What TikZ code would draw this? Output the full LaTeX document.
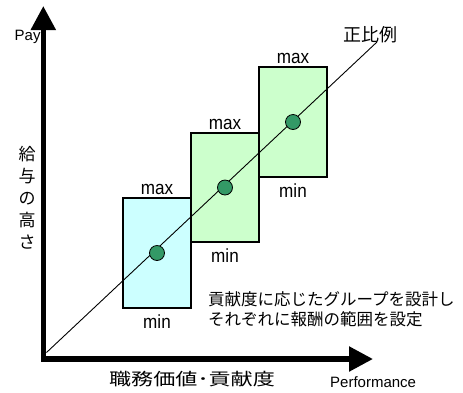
\documentclass[tikz,border=0pt]{standalone}
\usepackage{fontspec}
\setmainfont{Liberation Sans}
\newfontfamily\narrowsans[FakeStretch=0.9]{Liberation Sans}
\newfontfamily\jp{Noto Sans CJK JP}
\newfontfamily\jpwide[FakeStretch=1.3]{Noto Sans CJK JP}
\usetikzlibrary{arrows.meta}
\definecolor{boxblue}{HTML}{CCFFFF}
\definecolor{boxgreen}{HTML}{CCFFCC}
\definecolor{dotgreen}{HTML}{339966}
\begin{document}
\begin{tikzpicture}[x=1pt,y=-1pt,
  band/.style={draw=black,line width=2pt,minimum width=68pt,inner sep=0pt,anchor=north west},
  dot/.style={circle,draw=black,line width=0.8pt,fill=dotgreen,minimum size=15pt,inner sep=0pt},
  lbl/.style={font=\narrowsans\fontsize{19}{19}\selectfont,inner sep=0pt,anchor=base},
  axisline/.style={line width=5.3pt,{Triangle[length=24pt,width=24pt]}-{Triangle[length=24pt,width=24pt]}},
  jptext/.style={inner sep=0pt}]
\useasboundingbox (0,0) rectangle (463,392);

% axes
\coordinate (ytop) at (43.3,6);
\coordinate (corner) at (43.3,359);
\coordinate (xend) at (373,359);
\draw[axisline] (ytop) -- (corner) -- (xend);

% proportional line
\coordinate (o) at (46.5,352.5);
\coordinate (e) at (377,42);

% boxes
\node[band,fill=boxblue,minimum height=110pt] (b1) at (122,197) {};
\node[band,fill=boxgreen,minimum height=109pt] (b2) at (190,132) {};
\node[band,fill=boxgreen,minimum height=110pt] (b3) at (258,66) {};
\draw[line width=0.9pt] (o) -- (e);

% dots
\node[dot] (d1) at (b1.center) {};
\node[dot] (d2) at (b2.center) {};
\node[dot] (d3) at (b3.center) {};

% max / min labels
\node[lbl] (mx1) at ([yshift=2.5pt]b1.north) {max};
\node[lbl] (mx2) at ([yshift=2.5pt]b2.north) {max};
\node[lbl] (mx3) at ([yshift=2.5pt]b3.north) {max};
\node[lbl] (mn1) at ([yshift=-19pt]b1.south) {min};
\node[lbl] (mn2) at ([yshift=-19pt]b2.south) {min};
\node[lbl] (mn3) at ([yshift=-19pt]b3.south) {min};

% axis labels
\node[inner sep=0pt,anchor=base west,font=\fontsize{15}{15}\selectfont] (pay) at (14.5,40.5) {Pay};
\node[inner sep=0pt,anchor=base west,font=\fontsize{15}{15}\selectfont] (perf) at (330,387) {Performance};
\node[jptext,align=center,font=\jp\fontsize{17}{22}\selectfont] (ylab) at (27,198) {給\\与\\の\\高\\さ};
\node[jptext,font=\jpwide\fontsize{17}{17}\selectfont] (xlab) at (192,379) {職務価値･貢献度};
\node[jptext,font=\jp\fontsize{18}{18}\selectfont] (prop) at (370,35) {正比例};
\node[jptext,anchor=west,align=left,font=\jp\fontsize{16.5}{20}\selectfont] (note) at (208,309) {貢献度に応じたグループを設計し\\それぞれに報酬の範囲を設定};
\end{tikzpicture}
\end{document}
